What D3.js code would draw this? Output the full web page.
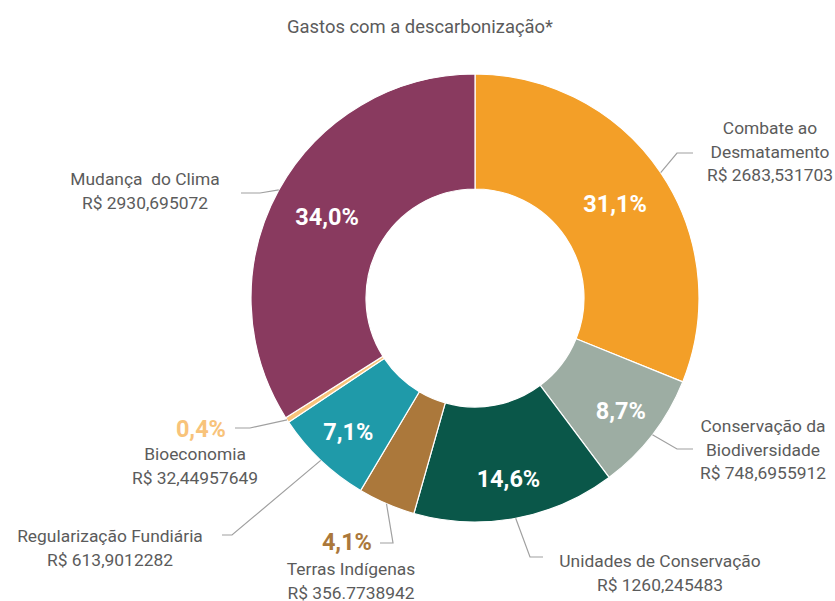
<!DOCTYPE html>
<html>
<head>
<meta charset="utf-8">
<script src="https://cdn.jsdelivr.net/npm/d3@7"></script>
<style>
  body { margin: 0; background: #fff; }
  text { font-family: Roboto, "Noto Sans", sans-serif; }
</style>
</head>
<body>
<div id="chart"></div>
<script>
// dados
const categorias = [
  "Combate ao Desmatamento",
  "Conservação da Biodiversidade",
  "Unidades de Conservação",
  "Terras Indígenas",
  "Regularização Fundiária",
  "Bioeconomia",
  "Mudança do Clima",
];
const valores = [2683.531703, 748.6955912, 1260.245483, 356.7738942, 613.9012282, 32.44957649, 2930.695072];
const valoresTexto = ["R$ 2683,531703", "R$ 748,6955912", "R$ 1260,245483", "R$ 356.7738942", "R$ 613,9012282", "R$ 32,44957649", "R$ 2930,695072"];
const percentuais = ["31,1%", "8,7%", "14,6%", "4,1%", "7,1%", "0,4%", "34,0%"];
const linhasNome = [
  ["Combate ao", "Desmatamento"],
  ["Conservação da", "Biodiversidade"],
  ["Unidades de Conservação"],
  ["Terras Indígenas"],
  ["Regularização Fundiária"],
  ["Bioeconomia"],
  ["Mudança  do Clima"],
];
const cores = ["#F39F28", "#9DADA3", "#0A5749", "#AB783B", "#1F9AA9", "#F8C37A", "#893A5F"];

// layout
const width = 835, height = 601;
const cx = 475, cy = 298, R = 224, r = 109;
const textColor = "#5b5b5b";

// posição dos rótulos externos (cotovelo, fim da linha, texto)
const rotulos = [
  { elbow: [677, 153], endX: 693, tx: 770, ty: 134, anchor: "middle" },
  { elbow: [677, 449], endX: 693, tx: 763, ty: 432, anchor: "middle" },
  { elbow: [530, 557], endX: 543, tx: 660, ty: 567, anchor: "middle" },
  { elbow: [393, 543], endX: 380, tx: 351, ty: 575, anchor: "middle", pct: [372, 550] },
  { elbow: [232, 535], endX: 222, tx: 110, ty: 542, anchor: "middle" },
  { elbow: [250, 428], endX: 235, tx: 195, ty: 460, anchor: "middle", pct: [226, 437] },
  { elbow: [260, 193], endX: 241, tx: 145, ty: 185, anchor: "middle" },
];

const data = categorias.map((c, i) => ({
  nome: c, valor: valores[i], texto: valoresTexto[i], pct: percentuais[i],
  linhas: linhasNome[i], cor: cores[i], rot: rotulos[i],
}));

const svg = d3.select("#chart").append("svg")
  .attr("width", width).attr("height", height);

svg.append("text")
  .attr("x", 420).attr("y", 33)
  .attr("text-anchor", "middle")
  .style("font-size", "18.4px")
  .style("fill", textColor)
  .text("Gastos com a descarbonização*");

const pie = d3.pie().sort(null).value((d) => d.valor);
const arc = d3.arc().innerRadius(r).outerRadius(R);
const arcs = pie(data);

const g = svg.append("g").attr("transform", `translate(${cx},${cy})`);

g.selectAll("path.fatia")
  .data(arcs)
  .enter()
  .append("path")
  .attr("class", "fatia")
  .attr("d", arc)
  .attr("fill", (d) => d.data.cor)
  .attr("stroke", "#fff")
  .attr("stroke-width", 1.2);

// percentuais dentro das fatias grandes
const internos = arcs.filter((d) => !d.data.rot.pct);
g.selectAll("text.pct")
  .data(internos)
  .enter()
  .append("text")
  .attr("class", "pct")
  .attr("transform", (d) => {
    const mid = (d.startAngle + d.endAngle) / 2;
    const lr = Math.cos(mid) > 0 ? 169 : 184;
    return `translate(${lr * Math.sin(mid)},${-lr * Math.cos(mid)})`;
  })
  .attr("text-anchor", "middle")
  .attr("dy", "0.36em")
  .style("font-size", "23.5px")
  .style("font-weight", "700")
  .style("fill", "#fff")
  .text((d) => d.data.pct);

// linhas de chamada
const outer = d3.arc().innerRadius(R).outerRadius(R);
svg.selectAll("polyline.leader")
  .data(arcs)
  .enter()
  .append("polyline")
  .attr("class", "leader")
  .attr("points", (d) => {
    const p = outer.centroid(d);
    const rot = d.data.rot;
    return [[cx + p[0], cy + p[1]], rot.elbow, [rot.endX, rot.elbow[1]]].join(" ");
  })
  .attr("fill", "none")
  .attr("stroke", "#a0a0a0")
  .attr("stroke-width", 1.2);

// rótulos externos
const rot = svg.selectAll("g.rotulo")
  .data(arcs)
  .enter()
  .append("g")
  .attr("class", "rotulo");

rot.append("text")
  .attr("x", (d) => d.data.rot.tx)
  .attr("y", (d) => d.data.rot.ty)
  .attr("text-anchor", (d) => d.data.rot.anchor)
  .style("font-size", "17.4px")
  .style("fill", textColor)
  .selectAll("tspan")
  .data((d) => d.data.linhas.concat([d.data.texto]))
  .enter()
  .append("tspan")
  .attr("x", function () { return d3.select(this.parentNode).attr("x"); })
  .attr("dy", (d, i) => (i === 0 ? 0 : 23.5))
  .style("white-space", "pre")
  .text((d) => d);

rot.filter((d) => d.data.rot.pct)
  .append("text")
  .attr("x", (d) => d.data.rot.pct[0])
  .attr("y", (d) => d.data.rot.pct[1])
  .attr("text-anchor", "end")
  .style("font-size", "23.5px")
  .style("font-weight", "700")
  .style("fill", (d) => d.data.cor)
  .text((d) => d.data.pct);
</script>
</body>
</html>
